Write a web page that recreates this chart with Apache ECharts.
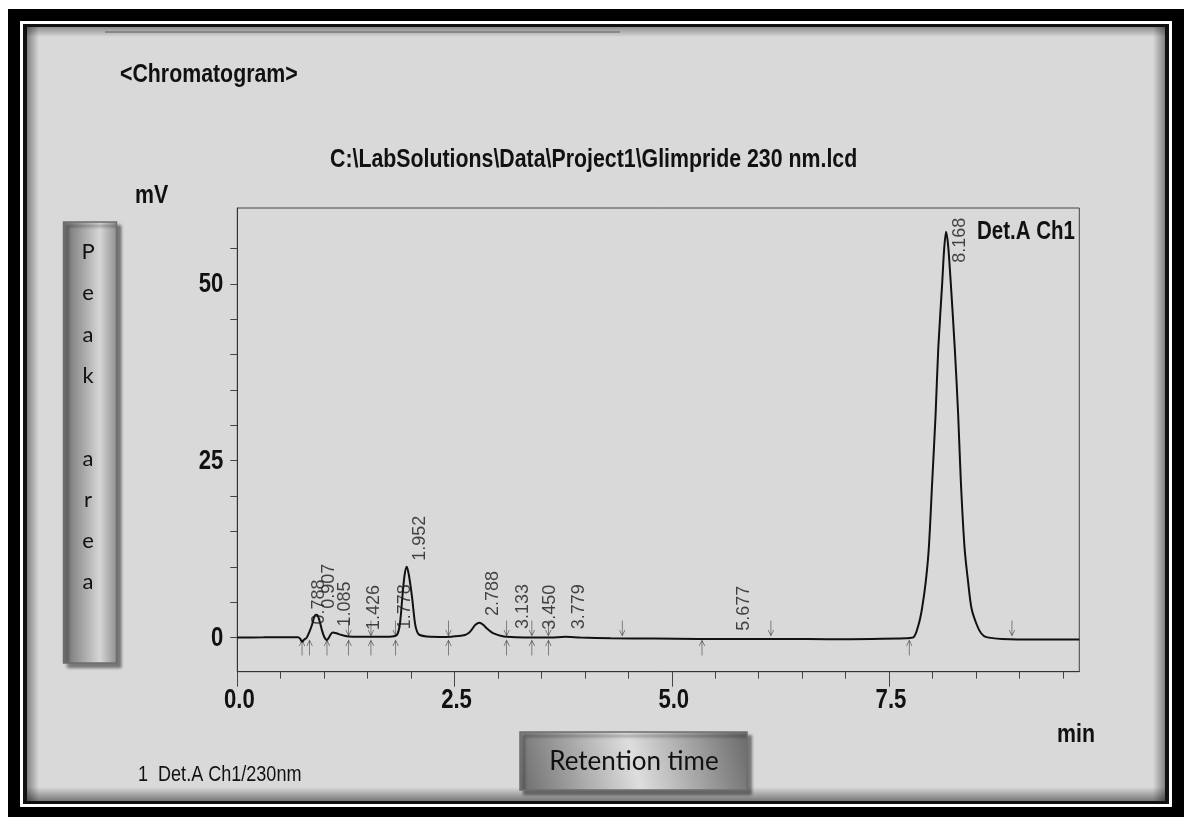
<!DOCTYPE html>
<html>
<head>
<meta charset="utf-8">
<script src="https://cdn.jsdelivr.net/npm/echarts@6/dist/echarts.min.js"></script>
<style>html,body{margin:0;padding:0;background:#fff}#c{width:1189px;height:819px}</style>
</head>
<body>
<div id="c"></div>
<script>
// ---- data ----
const signalTime = [0.00,0.30,0.60,0.70,0.725,0.745,0.77,0.80,0.83,0.86,0.885,0.905,0.925,0.95,0.975,1.00,1.03,1.05,1.075,1.10,1.14,1.20,1.28,1.40,1.60,1.78,1.84,1.872,1.90,1.925,1.95,1.975,2.01,2.045,2.07,2.10,2.18,2.40,2.55,2.62,2.67,2.70,2.74,2.788,2.83,2.87,2.92,2.965,3.03,3.10,3.30,3.60,3.78,3.95,4.30,4.80,5.30,5.80,6.30,6.80,7.30,7.70,7.78,7.84,7.88,7.923,7.958,7.997,8.036,8.067,8.113,8.135,8.157,8.18,8.21,8.257,8.296,8.327,8.37,8.41,8.45,8.51,8.56,8.62,8.80,9.20,9.69];
const signalMv   = [0.0,0.02,0.05,0.05,-0.2,-0.6,-0.3,0.0,0.8,1.8,2.9,3.2,3.1,2.2,1.0,0.1,-0.35,-0.1,0.45,0.7,0.6,0.35,0.15,0.1,0.1,0.15,0.4,2.0,5.8,8.8,10.0,8.8,5.8,2.0,0.8,0.35,0.15,0.08,0.2,0.35,0.7,1.15,1.8,2.1,1.8,1.3,0.8,0.5,0.25,0.1,0.0,0.0,0.1,0.0,-0.1,-0.15,-0.2,-0.2,-0.2,-0.25,-0.2,-0.1,0.0,1.8,4.1,7.9,12.6,22.0,31.5,40.9,50.3,55.0,57.4,55.5,50.3,40.9,31.5,22.0,12.6,7.9,4.1,1.8,0.6,0.05,-0.2,-0.3,-0.3];

const peakTimes   = ['0.788','0.907','1.085','1.426','1.778','1.952','2.788','3.133','3.450','3.779','5.677','8.168'];
const peakHeights = [1.0, 3.2, 0.7, 0.2, 0.3, 10.0, 2.2, 0.35, 0.25, 0.3, 0.1, 57.4];

const peakStartMarks = [0.745,0.832,1.032,1.281,1.538,1.822,2.43,3.10,3.39,3.58,5.348,7.733];
const peakEndMarks   = [1.281,1.538,1.822,2.43,3.10,3.39,3.58,4.43,6.141,8.915];

const xMajorTicks = [0, 2.5, 5, 7.5];
const xTickLabels = ['0.0', '2.5', '5.0', '7.5'];
const xMinorTicks = [0.5,1,1.5,2,3,3.5,4,4.5,5.5,6,6.5,7,8,8.5,9,9.5];
const yTicks = [0,5,10,15,20,25,30,35,40,45,50,55];
const yTickLabels = ['0', '25', '50'];
const yTickValues = [0, 25, 50];

// ---- layout / style ----
const SANS = "'Liberation Sans',Arial,Helvetica,sans-serif";
const HUMAN = "Lato,'Open Sans','Noto Sans',sans-serif";
const NARROW_X = 0.82;                        // horizontal squeeze to imitate Arial Narrow
const labelShift = { '8.168': [-31, 4] };    // [along text, across] px
const defaultShift = [6, 4];

const chart = echarts.init(document.getElementById('c'), null, {renderer: 'canvas', width: 1189, height: 819});

const signal = signalTime.map((t, i) => [t, signalMv[i]]);
const labelPts = peakTimes.map((s, i) => ({
  value: [parseFloat(s), peakHeights[i]],
  label: { offset: labelShift[s] || defaultShift, formatter: s }
}));

const upArrow = 'path://M5,0 L10,7 L9.2,7.6 L5.6,2.6 L5.6,18 L4.4,18 L4.4,2.6 L0.8,7.6 L0,7 Z';
const downArrow = 'path://M5,18 L10,11 L9.2,10.4 L5.6,15.4 L5.6,0 L4.4,0 L4.4,15.4 L0.8,10.4 L0,11 Z';

function txt(text, x, y, font, align, sx) {
  const a = align || 'left';
  return {
    type: 'text', z: 50, x: x, y: y, scaleX: sx || 1,
    style: { text: text, x: 0, y: 0, font: font, fill: '#111',
      align: a, verticalAlign: 'middle', textAlign: a, textVerticalAlign: 'middle' }
  };
}
function grad(x, y, x2, y2, stops) {
  return { type: 'linear', x: x, y: y, x2: x2, y2: y2,
    colorStops: stops.map(s => ({ offset: s[0], color: s[1] })) };
}

const option = {
  animation: false,
  backgroundColor: '#fff',
  grid: { left: 237.3, right: 109.7, top: 208, bottom: 147.3, show: true,
    borderColor: '#444', borderWidth: 1, backgroundColor: 'transparent', containLabel: false },
  xAxis: [
    { type: 'value', min: 0, max: 9.69, position: 'bottom',
      axisLine: { show: true, onZero: false, lineStyle: { color: '#333', width: 1 } },
      axisTick: { show: true, customValues: xMajorTicks, length: 15, lineStyle: { color: '#444', width: 1 } },
      axisLabel: { show: false }, splitLine: { show: false } },
    { type: 'value', min: 0, max: 9.69, position: 'bottom', offset: 0,
      axisLine: { show: false, onZero: false },
      axisTick: { show: true, customValues: xMinorTicks, length: 7, lineStyle: { color: '#444', width: 1 } },
      axisLabel: { show: false }, splitLine: { show: false } }
  ],
  yAxis: { type: 'value', min: -4.84, max: 60.75,
    axisLine: { show: true, onZero: false, lineStyle: { color: '#333', width: 1 } },
    axisTick: { show: true, customValues: yTicks, length: 7, lineStyle: { color: '#444', width: 1 } },
    axisLabel: { show: false }, splitLine: { show: false } },
  series: [
    { type: 'line', xAxisIndex: 0, data: signal, showSymbol: false, smooth: 0.3,
      lineStyle: { color: '#111', width: 2 }, z: 5, silent: true },
    { type: 'scatter', xAxisIndex: 0, data: peakStartMarks.map(t => [t, 0]),
      symbol: upArrow, symbolSize: [6, 16], symbolOffset: [0, 10],
      itemStyle: { color: '#5a5a5a', opacity: 1 }, z: 4, silent: true },
    { type: 'scatter', xAxisIndex: 0, data: peakEndMarks.map(t => [t, 0]),
      symbol: downArrow, symbolSize: [6, 16], symbolOffset: [0, -9],
      itemStyle: { color: '#5a5a5a', opacity: 1 }, z: 4, silent: true },
    { type: 'scatter', xAxisIndex: 0, data: labelPts, symbolSize: 1,
      itemStyle: { color: 'rgba(0,0,0,0)' }, z: 6, silent: true,
      label: { show: true, rotate: 90, align: 'left', verticalAlign: 'top', position: 'inside',
        fontFamily: SANS, fontSize: 18, color: '#1a1a1a' } }
  ]
};
chart.setOption(option);

// ---- decorations and axis labels (tick label positions come from the axes' own scales) ----
const graphics = [
  { type: 'rect', z: -100, shape: { x: 0, y: 0, width: 1189, height: 819 }, style: { fill: '#fff' } },
  { type: 'rect', z: -99, shape: { x: 8, y: 9, width: 1176, height: 808 }, style: { fill: '#000' } },
  { type: 'rect', z: -98, shape: { x: 20, y: 21, width: 1152, height: 786 }, style: { fill: '#fff' } },
  { type: 'rect', z: -97, shape: { x: 23, y: 24, width: 1146, height: 780 }, style: { fill: '#111' } },
  { type: 'rect', z: -96, shape: { x: 27, y: 27, width: 1138, height: 774 }, style: { fill: '#d9d9d9' } },
  { type: 'rect', z: -95, shape: { x: 27, y: 27, width: 1138, height: 10 }, style: { fill: grad(0,0,0,1,[[0,'rgba(0,0,0,0.35)'],[1,'rgba(0,0,0,0)']]) } },
  { type: 'rect', z: -95, shape: { x: 27, y: 787, width: 1138, height: 14 }, style: { fill: grad(0,0,0,1,[[0,'rgba(0,0,0,0)'],[1,'rgba(0,0,0,0.45)']]) } },
  { type: 'rect', z: -95, shape: { x: 27, y: 27, width: 12, height: 774 }, style: { fill: grad(0,0,1,0,[[0,'rgba(0,0,0,0.4)'],[1,'rgba(0,0,0,0)']]) } },
  { type: 'rect', z: -95, shape: { x: 1153, y: 27, width: 12, height: 774 }, style: { fill: grad(0,0,1,0,[[0,'rgba(0,0,0,0)'],[1,'rgba(0,0,0,0.4)']]) } },
  { type: 'line', z: -90, shape: { x1: 105, y1: 32, x2: 620, y2: 32 }, style: { stroke: '#7a7a7a', lineWidth: 1.5 } },
  { type: 'rect', z: 40, shape: { x: 63.5, y: 222, width: 53, height: 441 },
    style: { fill: grad(0,0,1,0,[[0,'#6a6a6a'],[0.2,'#8c8c8c'],[0.68,'#d6d6d6'],[1,'#8e8e8e']]),
      stroke: '#6d6d6d', lineWidth: 1.5, shadowBlur: 3, shadowOffsetX: 4, shadowOffsetY: 4, shadowColor: 'rgba(0,0,0,0.45)' } },
  { type: 'rect', z: 40, shape: { x: 520, y: 732, width: 227, height: 58 },
    style: { fill: grad(0,1,1,0,[[0,'#6c6c6c'],[0.5,'#dedede'],[1,'#6a6a6a']]),
      stroke: '#6d6d6d', lineWidth: 1.5, shadowBlur: 3, shadowOffsetX: 4, shadowOffsetY: 4, shadowColor: 'rgba(0,0,0,0.45)' } },
  txt('Retention time', 634, 762, '26px ' + HUMAN, 'center'),
  txt('<Chromatogram>', 120, 75, 'bold 26px ' + SANS, 'left', NARROW_X),
  txt('C:\\LabSolutions\\Data\\Project1\\Glimpride 230 nm.lcd', 330, 160, 'bold 26px ' + SANS, 'left', NARROW_X),
  txt('mV', 135, 196, 'bold 26px ' + SANS, 'left', NARROW_X),
  txt('Det.A Ch1', 1075, 232, 'bold 25px ' + SANS, 'right', NARROW_X),
  txt('min', 1095, 735, 'bold 26px ' + SANS, 'right', NARROW_X),
  txt('1  Det.A Ch1/230nm', 138, 775, '22px ' + SANS, 'left', NARROW_X)
];
'Peak area'.split('').forEach((ch, i) => {
  if (ch !== ' ') graphics.push(txt(ch, 88, 252 + i * 41.3, '22px ' + HUMAN, 'center'));
});
const axisBottom = chart.convertToPixel({ yAxisIndex: 0 }, -4.84);
const axisLeft = chart.convertToPixel({ xAxisIndex: 0 }, 0);
xMajorTicks.forEach((v, i) => {
  const px = chart.convertToPixel({ xAxisIndex: 0 }, v);
  graphics.push(txt(xTickLabels[i], px + 2, axisBottom + 29, 'bold 27px ' + SANS, 'center', NARROW_X));
});
yTickValues.forEach((v, i) => {
  const py = chart.convertToPixel({ yAxisIndex: 0 }, v);
  graphics.push(txt(yTickLabels[i], axisLeft - 14, py + 1, 'bold 27px ' + SANS, 'right', NARROW_X));
});
chart.setOption({ graphic: { elements: graphics } });
</script>
</body>
</html>
